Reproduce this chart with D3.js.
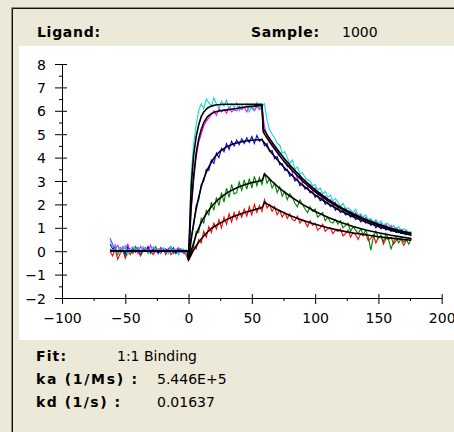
<!DOCTYPE html>
<html lang="en">

<head>
    <meta charset="utf-8">
    <title>sensorgram fit</title>
    <script src="https://cdn.jsdelivr.net/npm/d3@7"></script>
    <style>
        body {
            margin: 0;
            background: #ece9d8;
        }

        svg {
            display: block;
            font-family: "DejaVu Sans", sans-serif;
        }
    </style>
</head>

<body>
    <script>
        // sample times of the raw curves, every 2 s
        var times = d3.range(-62, 177, 2);

        var cyanData = [0.45, 0.2, 0.3, -0.1, 0.15, 0.05, 0.25, -0.15, 0.1, 0.2,
            0.0, 0.15, -0.05, 0.2, 0.1, -0.1, 0.05, 0.2, 0.0, 0.1,
            -0.05, 0.15, 0.05, -0.1, 0.2, 0.0, 0.1, -0.15, 0.05, 0.1,
            -0.05, -0.3, 3.2, 4.6, 5.4, 6.0, 6.3, 6.1, 6.5, 6.35,
            6.2, 6.55, 6.3, 6.1, 6.4, 6.2, 6.45, 6.05, 6.3, 6.15,
            6.35, 6.0, 6.25, 6.1, 6.3, 5.95, 6.2, 6.05, 6.35, 6.1,
            6.2, 6.3, 5.6, 5.2, 5.0, 4.85, 4.6, 4.55, 4.2, 4.25,
            4.0, 3.75, 3.9, 3.5, 3.6, 3.3, 3.35, 3.15, 3.05, 3.0,
            2.8, 2.85, 2.6, 2.7, 2.45, 2.55, 2.3, 2.4, 2.15, 2.25,
            2.1, 1.9, 2.05, 1.8, 1.85, 1.75, 1.65, 1.8, 1.55, 1.6,
            1.45, 1.55, 1.35, 1.4, 1.25, 1.35, 1.2, 1.3, 1.1, 1.2,
            1.15, 1.0, 1.1, 0.9, 1.05, 0.85, 0.95, 0.9, 0.8, 0.85];

        var magentaData = [0.55, 0.3, 0.1, 0.25, 0.0, 0.2, 0.1, 0.3, -0.05, 0.15,
            0.1, -0.1, 0.2, 0.05, 0.15, 0.0, 0.25, -0.05, 0.1, 0.0,
            0.15, 0.05, -0.1, 0.1, 0.2, -0.05, 0.05, 0.15, 0.0, -0.1,
            0.05, -0.25, 1.7, 3.0, 4.0, 4.65, 5.0, 5.35, 5.55, 5.7,
            5.85, 6.0, 5.8, 6.1, 5.95, 6.05, 5.9, 6.15, 5.95, 6.05,
            6.0, 6.2, 6.05, 6.15, 5.95, 6.25, 6.1, 6.0, 6.2, 6.05,
            6.15, 5.3, 4.95, 4.75, 4.6, 4.4, 4.3, 4.1, 3.95, 3.8,
            3.6, 3.7, 3.35, 3.45, 3.1, 3.25, 2.9, 3.05, 2.75, 2.85,
            2.55, 2.7, 2.4, 2.5, 2.2, 2.35, 2.05, 2.2, 1.95, 2.1,
            1.8, 1.95, 1.7, 1.85, 1.6, 1.75, 1.5, 1.65, 1.4, 1.55,
            1.3, 1.45, 1.25, 1.35, 1.15, 1.3, 1.05, 1.2, 1.0, 1.15,
            0.95, 1.1, 0.85, 1.0, 0.8, 0.95, 0.75, 0.9, 0.7, 0.8];

        var blueData = [0.3, 0.1, 0.2, -0.05, 0.15, 0.05, -0.1, 0.2, 0.0, 0.1,
            0.05, 0.15, -0.1, 0.1, 0.0, 0.2, -0.05, 0.1, 0.05, -0.1,
            0.15, 0.0, 0.1, -0.05, 0.05, 0.15, -0.1, 0.05, 0.1, 0.0,
            -0.05, -0.3, 0.6, 1.1, 1.95, 2.2, 2.85, 3.0, 3.5, 3.45,
            3.9, 3.75, 4.2, 4.0, 4.4, 4.25, 4.6, 4.35, 4.7, 4.5,
            4.75, 4.55, 4.8, 4.6, 4.85, 4.65, 4.9, 4.6, 4.95, 4.7,
            4.8, 4.5, 4.6, 4.25, 4.3, 3.95, 4.05, 3.7, 3.75, 3.45,
            3.5, 3.2, 3.3, 3.0, 3.1, 2.8, 2.9, 2.65, 2.75, 2.5,
            2.55, 2.3, 2.4, 2.15, 2.25, 2.0, 2.1, 1.9, 2.0, 1.75,
            1.85, 1.65, 1.75, 1.55, 1.6, 1.45, 1.55, 1.35, 1.45, 1.25,
            1.35, 1.2, 1.25, 1.1, 1.2, 1.0, 1.1, 0.95, 1.05, 0.9,
            0.95, 0.85, 0.9, 0.8, 0.85, 0.75, 0.8, 0.7, 0.75, 0.65];

        var greenData = [0.1, 0.0, 0.2, -0.15, 0.05, 0.1, -0.2, 0.15, 0.0, -0.1,
            0.2, 0.05, -0.15, 0.1, 0.0, 0.15, -0.1, 0.05, 0.2, -0.05,
            0.0, 0.1, -0.15, 0.05, 0.15, -0.1, 0.0, 0.1, -0.05, 0.05,
            -0.1, -0.35, 0.1, 0.2, 0.85, 0.8, 1.4, 1.2, 1.75, 1.55,
            2.1, 1.75, 2.3, 1.95, 2.5, 2.1, 2.7, 2.3, 2.85, 2.45,
            2.5, 2.95, 2.6, 3.05, 2.65, 3.1, 2.7, 3.2, 2.8, 3.15,
            2.85, 3.35, 2.9, 3.1, 2.7, 2.9, 2.5, 2.75, 2.35, 2.55,
            2.2, 2.45, 2.3, 2.05, 1.9, 2.2, 2.0, 1.8, 1.65, 1.9,
            1.7, 1.8, 1.45, 1.55, 1.65, 1.3, 1.45, 1.25, 1.2, 1.35,
            1.15, 1.3, 1.0, 1.1, 1.2, 0.85, 1.05, 0.9, 0.75, 0.95,
            0.7, 0.9, 0.6, 0.05, 0.6, 0.85, 0.55, 0.7, 0.4, 0.75,
            0.5, 0.1, 0.4, 0.6, 0.35, 0.55, 0.4, 0.5, 0.3, 0.55];

        var redData = [0.0, -0.2, 0.1, -0.35, -0.1, 0.05, -0.3, 0.0, -0.15, 0.1,
            -0.05, 0.05, -0.2, 0.0, 0.1, -0.1, 0.05, -0.15, 0.0, 0.1,
            -0.1, 0.05, -0.05, 0.1, -0.15, 0.0, 0.05, -0.1, 0.05, -0.05,
            -0.15, -0.4, -0.2, 0.2, 0.1, 0.5, 0.35, 0.85, 0.6, 1.05,
            0.8, 1.2, 0.95, 1.35, 1.0, 1.45, 1.15, 1.6, 1.25, 1.65,
            1.35, 1.7, 1.45, 1.8, 1.5, 1.9, 1.55, 2.0, 1.65, 1.95,
            1.7, 2.2, 1.85, 2.0, 1.7, 1.9, 1.55, 1.75, 1.45, 1.65,
            1.4, 1.6, 1.35, 1.3, 1.5, 1.2, 1.35, 1.25, 1.05, 1.3,
            1.1, 1.2, 0.9, 1.0, 1.15, 0.85, 0.95, 1.0, 0.75, 0.9,
            0.85, 0.95, 0.65, 0.75, 0.9, 0.6, 0.8, 0.7, 0.5, 0.75,
            0.65, 0.75, 0.45, 0.55, 0.7, 0.35, 0.6, 0.65, 0.3, 0.55,
            0.5, 0.6, 0.3, 0.45, 0.55, 0.5, 0.25, 0.45, 0.55, 0.5];

        // fitted 1:1 binding curves (black)
        var fitTimes = [-62, -0.3, 0, 2, 4, 6, 8, 10, 12, 15, 18, 21, 25, 30, 35, 40, 45, 50, 55, 58,
            59, 60, 62, 66, 70, 75, 80, 90, 100, 110, 120, 130, 140, 150, 160, 170, 176];
        var cyanFit = [0, 0, -0.35, 2.7, 4.1, 4.9, 5.4, 5.75, 5.95, 6.12, 6.2, 6.25, 6.27, 6.28, 6.28, 6.28, 6.28, 6.28, 6.28, 6.28,
            5.25, 5.15, 4.98, 4.66, 4.36, 4.0, 3.68, 3.1, 2.62, 2.22, 1.88, 1.6, 1.36, 1.15, 0.98, 0.84, 0.77];
        var magentaFit = [0, 0, -0.35, 1.9, 3.2, 4.2, 4.8, 5.2, 5.5, 5.75, 5.88, 5.95, 6.0, 6.04, 6.08, 6.12, 6.16, 6.19, 6.22, 6.23,
            5.1, 5.0, 4.84, 4.52, 4.22, 3.87, 3.56, 3.0, 2.54, 2.15, 1.83, 1.55, 1.32, 1.12, 0.95, 0.81, 0.74];
        var blueFit = [0, 0, -0.35, 0.45, 1.2, 1.8, 2.3, 2.75, 3.1, 3.5, 3.8, 4.05, 4.28, 4.46, 4.58, 4.66, 4.71, 4.74, 4.76, 4.77,
            4.69, 4.62, 4.47, 4.18, 3.92, 3.61, 3.33, 2.82, 2.4, 2.04, 1.73, 1.47, 1.25, 1.06, 0.9, 0.76, 0.69];
        var greenFit = [0, 0, -0.35, 0.0, 0.35, 0.7, 0.98, 1.22, 1.42, 1.68, 1.9, 2.08, 2.28, 2.48, 2.63, 2.75, 2.85, 2.93, 2.99, 3.02,
            3.15, 3.3, 3.2, 2.98, 2.78, 2.56, 2.36, 2.0, 1.7, 1.45, 1.24, 1.06, 0.91, 0.79, 0.68, 0.59, 0.54];
        var redFit = [0, 0, -0.35, -0.15, 0.05, 0.22, 0.38, 0.52, 0.65, 0.82, 0.97, 1.08, 1.2, 1.35, 1.47, 1.57, 1.66, 1.74, 1.82, 1.86,
            1.95, 2.1, 2.02, 1.9, 1.78, 1.65, 1.53, 1.32, 1.15, 1.0, 0.88, 0.78, 0.7, 0.62, 0.56, 0.5, 0.47];

        var xTicks = [-100, -50, 0, 50, 100, 150, 200];
        var xMinor = [-75, -25, 25, 75, 125, 175];
        var yTicks = [-2, -1, 0, 1, 2, 3, 4, 5, 6, 7, 8];
        var yMinor = [-1.5, -0.5, 0.5, 1.5, 2.5, 3.5, 4.5, 5.5, 6.5, 7.5];

        var svgWidth = 454, svgHeight = 432;
        var svg = d3.select('body')
            .append('svg')
            .attr('width', svgWidth)
            .attr('height', svgHeight);

        var x = d3.scaleLinear().domain([-100, 200]).range([62, 441.7]);
        var y = d3.scaleLinear().domain([-2, 8]).range([298, 64]);

        function drawFrame() {
            svg.append('rect')
                .attr('width', svgWidth).attr('height', svgHeight)
                .style('fill', '#ece9d8');
            svg.append('rect')
                .attr('x', 19).attr('y', 46)
                .attr('width', svgWidth - 19).attr('height', 294)
                .style('fill', '#fff');
            svg.append('path')
                .attr('d', `M11.5,${svgHeight} V7.5 H${svgWidth}`)
                .style('fill', 'none').style('stroke', '#8a8a8a');
            svg.append('path')
                .attr('d', `M12.5,${svgHeight} V8.5 H${svgWidth}`)
                .style('fill', 'none').style('stroke', '#111');
        }

        function drawAxes() {
            var gx = svg.append('g')
                .attr('transform', 'translate(0, 298)')
                .call(d3.axisBottom(x).tickValues(xTicks).tickSizeOuter(0));
            gx.selectAll('.tick line').attr('y1', -4).attr('y2', 6);
            gx.selectAll('.tick text').attr('y', 25).attr('dy', 0);

            svg.append('g')
                .attr('transform', 'translate(0, 298)')
                .call(d3.axisBottom(x).tickValues(xMinor).tickSize(3).tickFormat(''))
                .select('.domain').remove();

            var gy = svg.append('g')
                .attr('transform', 'translate(62, 0)')
                .call(d3.axisLeft(y).tickValues(yTicks).tickSizeOuter(0));
            gy.selectAll('.tick line').attr('x1', 5).attr('x2', -7);
            gy.selectAll('.tick text').attr('x', -16).attr('dy', '0.36em');

            svg.append('g')
                .attr('transform', 'translate(62, 0)')
                .call(d3.axisLeft(y).tickValues(yMinor).tickSize(3).tickFormat(''))
                .select('.domain').remove();

            svg.selectAll('.tick text')
                .style('font-family', '"DejaVu Sans", sans-serif')
                .style('font-size', '14px')
                .style('fill', '#000');
            svg.selectAll('.domain, .tick line').style('stroke', '#000');
        }

        function drawCurves() {
            var raw = d3.line()
                .x((d, i) => x(times[i]))
                .y(d => y(d));
            var fit = d3.line()
                .x((d, i) => x(fitTimes[i]))
                .y(d => y(d));

            var series = [
                { values: redData, color: '#ff0000' },
                { values: greenData, color: '#008000' },
                { values: blueData, color: '#0000ff' },
                { values: magentaData, color: '#ff00ff' },
                { values: cyanData, color: '#10d8d8' }
            ];
            svg.append('g')
                .selectAll('path')
                .data(series)
                .enter().append('path')
                .attr('d', d => raw(d.values))
                .style('fill', 'none')
                .style('stroke', d => d.color)
                .style('stroke-width', 1.1);

            svg.append('g')
                .selectAll('path')
                .data([redFit, greenFit, blueFit, magentaFit, cyanFit])
                .enter().append('path')
                .attr('d', d => fit(d))
                .style('fill', 'none')
                .style('stroke', '#000')
                .style('stroke-width', 1.6);
        }

        function drawText() {
            var labels = [
                { text: 'Ligand:', x: 37, y: 37, bold: true, len: 63 },
                { text: 'Sample:', x: 251, y: 37, bold: true, len: 68 },
                { text: '1000', x: 342, y: 37 },
                { text: 'Fit:', x: 36, y: 361, bold: true, len: 30 },
                { text: '1:1 Binding', x: 117, y: 361 },
                { text: 'ka (1/Ms) :', x: 36, y: 384, bold: true, len: 101 },
                { text: '5.446E+5', x: 157, y: 384 },
                { text: 'kd (1/s) :', x: 36, y: 407, bold: true, len: 84 },
                { text: '0.01637', x: 157, y: 407 }
            ];
            labels.forEach(l => {
                var t = svg.append('text')
                    .attr('x', l.x).attr('y', l.y)
                    .style('font-size', '14px')
                    .style('font-weight', l.bold ? 'bold' : 'normal')
                    .style('fill', '#000')
                    .text(l.text);
                if (l.len) t.attr('textLength', l.len).attr('lengthAdjust', 'spacing');
            });
        }

        drawFrame();
        drawCurves();
        drawAxes();
        drawText();
    </script>
</body>

</html>
